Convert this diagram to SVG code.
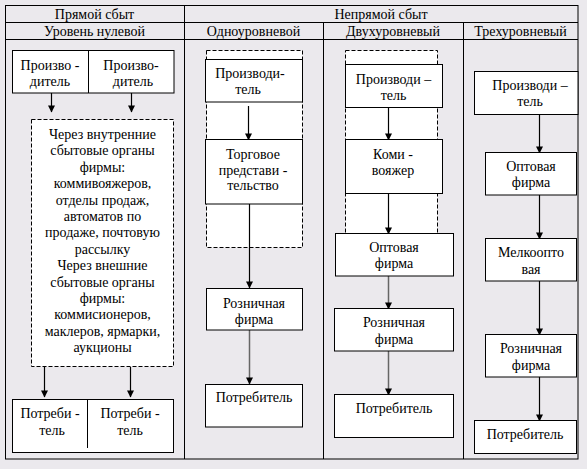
<svg xmlns="http://www.w3.org/2000/svg" width="587" height="469" viewBox="0 0 587 469">
<defs>
<marker id="ah" markerWidth="8" markerHeight="8" refX="7" refY="4" orient="auto" markerUnits="userSpaceOnUse" viewBox="0 0 8 8">
<path d="M0.5,0.5 L7.5,4 L0.5,7.5 Z" fill="#000"/>
</marker>
<style>
text{font-size:14px;fill:#000;text-anchor:middle}
.grid{stroke:#000;stroke-width:1;fill:none}
.box{fill:#fff;stroke:#000;stroke-width:1}
.dash{fill:#fff;stroke:#000;stroke-width:1;stroke-dasharray:4,2}
.arr{stroke:#000;stroke-width:1.2;fill:none;marker-end:url(#ah)}
.arrg{stroke:#666;stroke-width:1.5;fill:none;marker-end:url(#ah)}
</style>
</defs>
<rect x="0" y="0" width="587" height="469" fill="#ebe9ed"/>
<g font-family="'Liberation Serif', 'Times New Roman', 'DejaVu Serif', serif">
<g id="table">
<rect class="grid" x="5.5" y="5.5" width="572.5" height="453.5"/>
<line class="grid" x1="5" y1="22.5" x2="578" y2="22.5"/>
<line class="grid" x1="5" y1="39.5" x2="578" y2="39.5"/>
<line class="grid" x1="184.5" y1="5" x2="184.5" y2="459"/>
<line class="grid" x1="323.5" y1="22.5" x2="323.5" y2="459"/>
<line class="grid" x1="463.5" y1="22.5" x2="463.5" y2="459"/>
<text x="94.5" y="19">Прямой сбыт</text>
<text x="94.5" y="36">Уровень нулевой</text>
<text x="381" y="19">Непрямой сбыт</text>
<text x="253.5" y="36">Одноуровневой</text>
<text x="393" y="36">Двухуровневый</text>
<text x="520.5" y="36">Трехуровневый</text>
</g>
<g id="dashed-frames">
<rect class="dash" x="206.5" y="50.5" width="96" height="197"/>
<rect class="dash" x="345.5" y="50.5" width="92" height="185"/>
</g>
<g id="connectors">
<line class="arr" x1="51.5" y1="93" x2="51.5" y2="112"/>
<line class="arr" x1="131.5" y1="93" x2="131.5" y2="112"/>
<line class="arr" x1="44.5" y1="367" x2="44.5" y2="397"/>
<line class="arr" x1="130.5" y1="367" x2="130.5" y2="397"/>
<line class="arr" x1="248.5" y1="106" x2="248.5" y2="140"/>
<line class="arr" x1="249.5" y1="204" x2="249.5" y2="288"/>
<line class="arrg" x1="249.5" y1="330" x2="249.5" y2="384"/>
<line class="arr" x1="388.5" y1="107" x2="388.5" y2="140"/>
<line class="arr" x1="388.5" y1="193" x2="388.5" y2="234"/>
<line class="arrg" x1="388.5" y1="276" x2="388.5" y2="309"/>
<line class="arrg" x1="388.5" y1="351" x2="388.5" y2="395"/>
<line class="arr" x1="539.5" y1="114" x2="539.5" y2="153"/>
<line class="arr" x1="539.5" y1="195" x2="539.5" y2="239"/>
<line class="arr" x1="539.5" y1="281" x2="539.5" y2="335"/>
<line class="arr" x1="539.5" y1="377" x2="539.5" y2="421"/>
</g>
<g id="direct-producers">
<rect class="box" x="12.5" y="50.5" width="161.5" height="42.5"/>
<line class="grid" x1="88.5" y1="50.5" x2="88.5" y2="93"/>
<text x="50" y="70">Произво -</text>
<text x="50" y="86">дитель</text>
<text x="131" y="70">Произво-</text>
<text x="133" y="86">дитель</text>
</g>
<g id="direct-channels">
<rect class="dash" x="31.5" y="119.5" width="142" height="247"/>
<text x="102.5" y="139">Через внутренние</text>
<text x="102.5" y="155.4">сбытовые органы</text>
<text x="102.5" y="171.8">фирмы:</text>
<text x="102.5" y="188.2">коммивояжеров,</text>
<text x="102.5" y="204.6">отделы продаж,</text>
<text x="102.5" y="221">автоматов по</text>
<text x="102.5" y="237.4">продаже, почтовую</text>
<text x="102.5" y="253.8">рассылку</text>
<text x="102.5" y="270.2">Через внешние</text>
<text x="102.5" y="286.6">сбытовые органы</text>
<text x="102.5" y="303">фирмы:</text>
<text x="102.5" y="319.4">коммисионеров,</text>
<text x="102.5" y="335.8">маклеров, ярмарки,</text>
<text x="102.5" y="352.2">аукционы</text>
</g>
<g id="direct-consumers">
<rect class="box" x="12.5" y="399.5" width="161" height="53"/>
<line class="grid" x1="87.5" y1="399.5" x2="87.5" y2="448"/>
<text x="50" y="418">Потреби -</text>
<text x="52" y="435">тель</text>
<text x="130" y="418">Потреби -</text>
<text x="130" y="435">тель</text>
</g>
<g id="l1-producer">
<rect class="box" x="205.5" y="59.5" width="97" height="42.5"/>
<text x="250" y="77.5">Производи-</text>
<text x="248" y="94">тель</text>
</g>
<g id="l1-agency">
<rect class="box" x="205.5" y="139.5" width="97" height="64.5"/>
<text x="253" y="159">Торговое</text>
<text x="253" y="175">представи -</text>
<text x="253" y="190">тельство</text>
</g>
<g id="l1-retail">
<rect class="box" x="206.5" y="288.5" width="96" height="41.5"/>
<text x="254" y="307.5">Розничная</text>
<text x="254" y="324">фирма</text>
</g>
<g id="l1-consumer">
<rect class="box" x="205.5" y="384.5" width="97" height="42.5"/>
<text x="254" y="401.5">Потребитель</text>
</g>
<g id="l2-producer">
<rect class="box" x="345.5" y="64.5" width="97" height="43"/>
<text x="393.5" y="84">Производи –</text>
<text x="393.5" y="100">тель</text>
</g>
<g id="l2-agent">
<rect class="box" x="345.5" y="139.5" width="97" height="54"/>
<text x="393" y="159">Коми -</text>
<text x="393" y="175">вояжер</text>
</g>
<g id="l2-wholesale">
<rect class="box" x="335.5" y="233.5" width="118" height="42.5"/>
<text x="394" y="252">Оптовая</text>
<text x="394" y="268">фирма</text>
</g>
<g id="l2-retail">
<rect class="box" x="334.5" y="308.5" width="119" height="42.5"/>
<text x="394" y="326.5">Розничная</text>
<text x="394" y="344">фирма</text>
</g>
<g id="l2-consumer">
<rect class="box" x="334.5" y="394.5" width="119" height="43"/>
<text x="394" y="413">Потребитель</text>
</g>
<g id="l3-producer">
<rect class="box" x="474.5" y="71.5" width="103.5" height="43"/>
<text x="530" y="90">Производи –</text>
<text x="530" y="106">тель</text>
</g>
<g id="l3-wholesale">
<rect class="box" x="485.5" y="152.5" width="91" height="42.5"/>
<text x="531" y="170.5">Оптовая</text>
<text x="531" y="186.5">фирма</text>
</g>
<g id="l3-small-wholesale">
<rect class="box" x="485.5" y="238.5" width="91" height="42.5"/>
<text x="531" y="256.5">Мелкоопто</text>
<text x="531" y="274">вая</text>
</g>
<g id="l3-retail">
<rect class="box" x="485.5" y="334.5" width="91" height="42.5"/>
<text x="531" y="353">Розничная</text>
<text x="531" y="370">фирма</text>
</g>
<g id="l3-consumer">
<rect class="box" x="474.5" y="420.5" width="102" height="33"/>
<text x="525" y="439">Потребитель</text>
</g>
</g>
</svg>
